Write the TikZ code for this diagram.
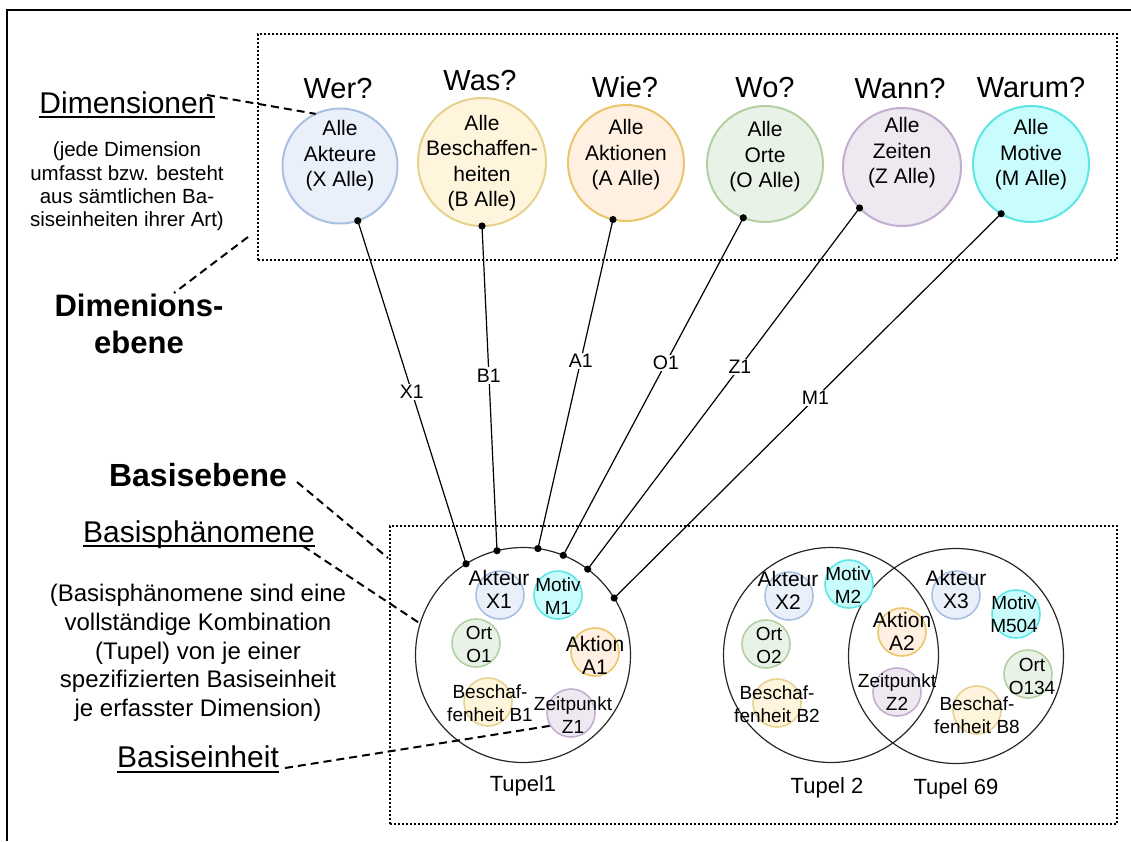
\documentclass[tikz,border=0pt]{standalone}
\usepackage{fontspec}
\setmainfont{Liberation Sans}
\definecolor{bluef}{HTML}{EAF0FA}
\definecolor{blued}{HTML}{A9C0E2}
\definecolor{yelf}{HTML}{FFF5DC}
\definecolor{yeld}{HTML}{E6D18F}
\definecolor{oraf}{HTML}{FFF0E1}
\definecolor{orad}{HTML}{EAC56A}
\definecolor{gref}{HTML}{E8F2E6}
\definecolor{gred}{HTML}{B2D0A2}
\definecolor{purf}{HTML}{EEE8F1}
\definecolor{purd}{HTML}{C3AED0}
\definecolor{cyaf}{HTML}{C9FCFC}
\definecolor{cyad}{HTML}{5EE6E6}
\begin{document}
\begin{tikzpicture}[x=1pt,y=-1pt,
  dimc/.style={circle,inner sep=0pt,outer sep=0pt,line width=2pt},
  smc/.style={circle,inner sep=0pt,outer sep=0pt,line width=1.6pt,minimum size=48pt},
  tupc/.style={circle,inner sep=0pt,outer sep=0pt,line width=1.2pt,draw=black!85,minimum size=215pt},
  dtext/.style={align=center,inner sep=0pt,font=\fontsize{21}{25.5}\selectfont},
  stext/.style={align=center,inner sep=0pt,font=\fontsize{19}{23}\selectfont},
  btext/.style={align=center,inner sep=0pt,font=\fontsize{21}{23}\selectfont},
  quest/.style={anchor=base,inner sep=0pt,font=\fontsize{29}{34}\selectfont},
  head/.style={anchor=base,inner sep=0pt,font=\fontsize{30}{36}\selectfont},
  boldtxt/.style={align=center,inner sep=0pt,font=\fontsize{31}{37}\selectfont\bfseries},
  paraA/.style={align=center,inner sep=0pt,font=\fontsize{20.5}{23.3}\selectfont},
  paraB/.style={align=center,inner sep=0pt,font=\fontsize{24}{28.7}\selectfont},
  dotbox/.style={draw,rectangle,inner sep=0pt,outer sep=0pt,line width=2pt,dash pattern=on 2pt off 2pt},
  dashln/.style={line width=2pt,dash pattern=on 8pt off 5pt},
  conn/.style={line width=1.2pt},
  lab/.style={fill=white,inner sep=1.5pt,font=\fontsize{19.5}{22}\selectfont},
  tlab/.style={anchor=base,inner sep=0pt,font=\fontsize{22}{26}\selectfont},
  uline/.style={line width=1.6pt}]
\useasboundingbox (0,0) rectangle (1131,841);
% outer frame (cropped)
\draw[line width=1.5pt] (7,841) -- (7,10) -- (1131,10);
% dotted boxes
\node[dotbox,minimum width=859pt,minimum height=226pt] (topbox) at (687.5,147) {};
\node[dotbox,minimum width=727pt,minimum height=298pt] (botbox) at (753.5,675) {};
% dimension circles
\node[dimc,fill=bluef,draw=blued,minimum size=115pt] (akt) at (340,166) {};
\node[dimc,fill=yelf,draw=yeld,minimum size=128pt] (bes) at (482,162) {};
\node[dimc,fill=oraf,draw=orad,minimum size=116pt] (aki) at (626,163) {};
\node[dimc,fill=gref,draw=gred,minimum size=116pt] (ort) at (765,164) {};
\node[dimc,fill=purf,draw=purd,minimum size=118pt] (zei) at (902,167) {};
\node[dimc,fill=cyaf,draw=cyad,minimum size=116pt] (mot) at (1031,164) {};
\node[dtext] (aktT) at (340,156) {Alle\\Akteure\\(X Alle)};
\node[dtext] (besT) at (482,163) {Alle\\Beschaffen-\\heiten\\(B Alle)};
\node[dtext] (akiT) at (626,155) {Alle\\Aktionen\\(A Alle)};
\node[dtext] (ortT) at (765,157) {Alle\\Orte\\(O Alle)};
\node[dtext] (zeiT) at (902,153) {Alle\\Zeiten\\(Z Alle)};
\node[dtext] (motT) at (1031,155) {Alle\\Motive\\(M Alle)};
% questions
\node[quest] (q1) at (338,98) {Wer?};
\node[quest] (q2) at (480,90) {Was?};
\node[quest] (q3) at (625,97) {Wie?};
\node[quest] (q4) at (765,97) {Wo?};
\node[quest] (q5) at (900,98) {Wann?};
\node[quest] (q6) at (1031,97) {Warum?};
% tuple circles
\node[tupc] (t1) at (523,655) {};
\node[tupc] (t2) at (831,655) {};
\node[tupc] (t69) at (956,656) {};
% Tupel 1 members
\node[smc,fill=bluef,draw=blued] (sx1) at (500,595) {};
\node[smc,fill=cyaf,draw=cyad] (sm1) at (558,595) {};
\node[smc,fill=gref,draw=gred] (so1) at (476,643) {};
\node[smc,fill=oraf,draw=orad] (sa1) at (595,652) {};
\node[smc,fill=yelf,draw=yeld] (sb1) at (488,702) {};
\node[smc,fill=purf,draw=purd] (sz1) at (571,713) {};
\node[btext] (tx1) at (499,589.5) {Akteur\\X1};
\node[stext] (tm1) at (558,596) {Motiv\\M1};
\node[stext] (to1) at (479,644) {Ort\\O1};
\node[btext] (ta1) at (595,655) {Aktion\\A1};
\node[stext] (tb1) at (490,703.5) {Beschaf-\\fenheit B1};
\node[stext] (tz1) at (573,715) {Zeitpunkt\\Z1};
% Tupel 2 members
\node[smc,fill=bluef,draw=blued] (sx2) at (789,596) {};
\node[smc,fill=cyaf,draw=cyad] (sm2) at (849,584) {};
\node[smc,fill=gref,draw=gred] (so2) at (766,644) {};
\node[smc,fill=yelf,draw=yeld] (sb2) at (777,703) {};
\node[smc,fill=oraf,draw=orad] (sa2) at (902,632) {};
\node[smc,fill=purf,draw=purd] (sz2) at (897,692) {};
\node[btext] (tx2) at (788,590) {Akteur\\X2};
\node[stext] (tm2) at (848,585) {Motiv\\M2};
\node[stext] (to2) at (769,645) {Ort\\O2};
\node[stext] (tb2) at (777,704) {Beschaf-\\fenheit B2};
\node[btext] (ta2) at (902,631.5) {Aktion\\A2};
\node[stext] (tz2) at (897,692.5) {Zeitpunkt\\Z2};
% Tupel 69 members
\node[smc,fill=bluef,draw=blued] (sx3) at (956,595) {};
\node[smc,fill=cyaf,draw=cyad] (sm504) at (1016,614) {};
\node[smc,fill=gref,draw=gred] (so134) at (1028,674) {};
\node[smc,fill=yelf,draw=yeld] (sb8) at (977,710) {};
\node[btext] (tx3) at (956,589) {Akteur\\X3};
\node[stext] (tm504) at (1014,614.5) {Motiv\\M504};
\node[stext] (to134) at (1032,676) {Ort\\O134};
\node[stext] (tb8) at (977,715) {Beschaf-\\fenheit B8};
% tuple labels
\node[tlab] (l1) at (523,791) {Tupel1};
\node[tlab] (l2) at (827,793) {Tupel 2};
\node[tlab] (l69) at (956,794) {Tupel 69};
% connectors
\draw[conn] (akt.-72) -- node[lab,pos=0.5]{X1} (t1.122);
\draw[conn] (bes.-90) -- node[lab,pos=0.46]{B1} (t1.104);
\draw[conn] (aki.-103) -- node[lab,pos=0.43]{A1} (t1.82);
\draw[conn] (ort.-112) -- node[lab,pos=0.43]{O1} (t1.68);
\draw[conn] (zei.-136) -- node[lab,pos=0.44]{Z1} (t1.53);
\draw[conn] (mot.-121) -- node[lab,pos=0.48]{M1} (t1.32);
\foreach \p in {akt.-72,bes.-90,aki.-103,ort.-112,zei.-136,mot.-121,t1.122,t1.104,t1.82,t1.68,t1.53,t1.32}
  \fill (\p) circle (3.6pt);
% left texts
\node[head] (hdim) at (127,113) {Dimensionen};
\draw[uline] (hdim.base west) ++(0,4) -- ([yshift=-4pt]hdim.base east);
\node[paraA] (pdim) at (127,186.5) {(jede Dimension\\umfasst bzw. besteht\\aus sämtlichen Ba-\\siseinheiten ihrer Art)};
\node[boldtxt] (bdim) at (139,324) {Dimenions-\\ebene};
\node[boldtxt,font=\fontsize{32}{37}\selectfont\bfseries,anchor=base] (bbas) at (198,486) {Basisebene};
\node[head] (hbas) at (199,542) {Basisphänomene};
\draw[uline] (hbas.base west) ++(0,4) -- ([yshift=-4pt]hbas.base east);
\node[paraB] (pbas) at (198,653) {(Basisphänomene sind eine\\vollständige Kombination\\(Tupel) von je einer\\spezifizierten Basiseinheit\\je erfasster Dimension)};
\node[head] (hein) at (198,767) {Basiseinheit};
\draw[uline] (hein.base west) ++(0,5) -- ([yshift=-5pt]hein.base east);
% dashed pointers
\coordinate (d1) at (207,95);
\coordinate (d2a) at (248,237);
\coordinate (d2b) at (174,293);
\coordinate (d3a) at (297,482);
\coordinate (d3b) at (388,558);
\coordinate (d4) at (303,546);
\coordinate (d5) at (285,768);
\draw[dashln] (d1) -- (akt.115);
\draw[dashln] (d2a) -- (d2b);
\draw[dashln] (d3a) -- (d3b);
\draw[dashln] (d4) -- (t1.163);
\draw[dashln] (d5) -- (sz1.-148);
\end{tikzpicture}
\end{document}
